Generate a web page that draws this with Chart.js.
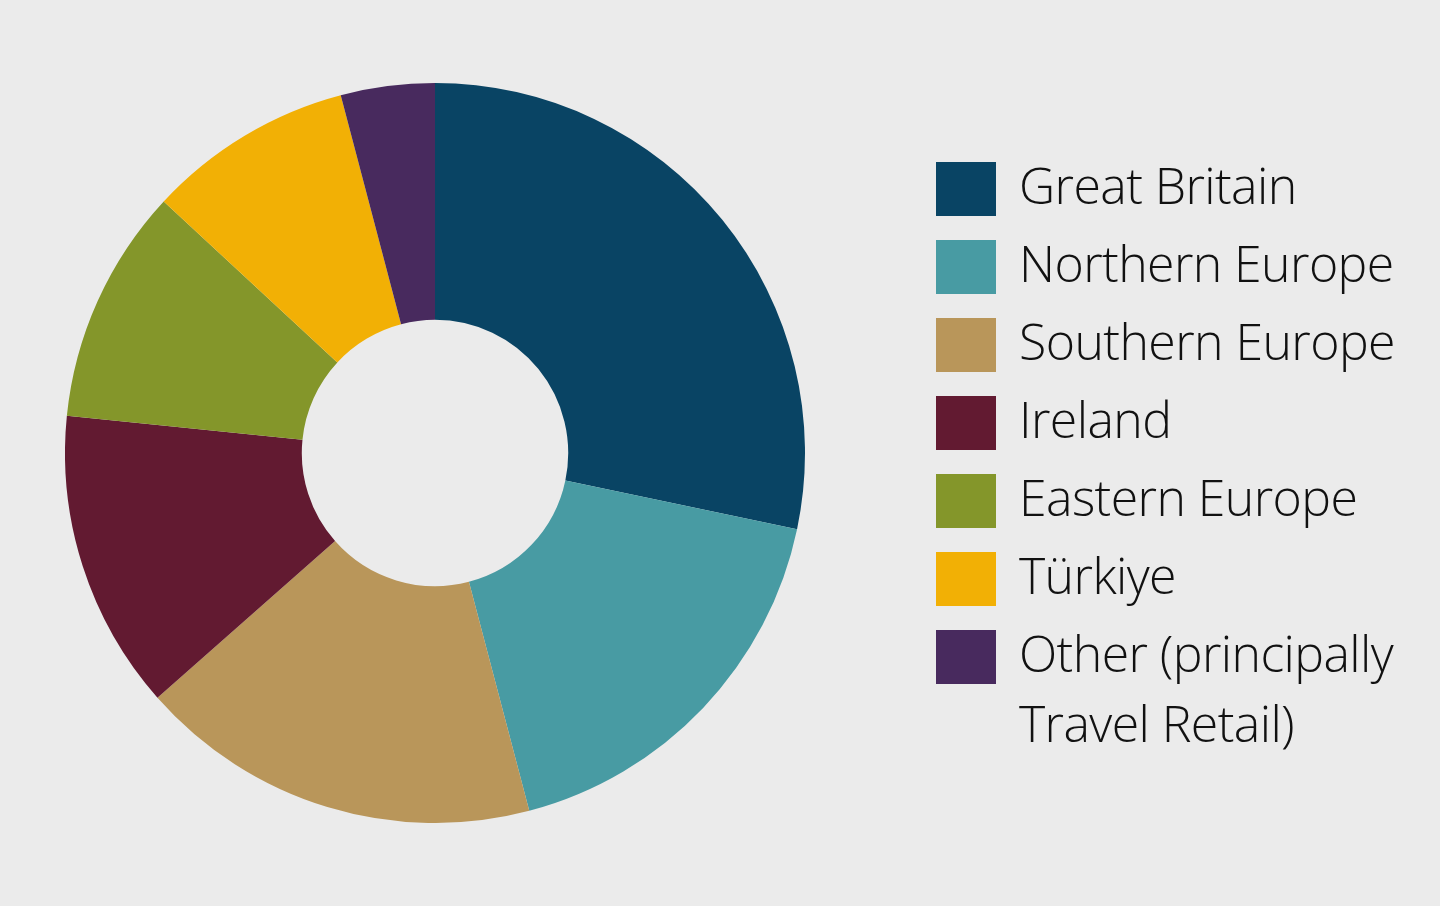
<!DOCTYPE html>
<html>
<head>
<meta charset="utf-8">
<script src="https://cdn.jsdelivr.net/npm/chart.js@4"></script>
<style>
  html, body { margin: 0; padding: 0; background: #ebebeb; }
  body { width: 1440px; height: 906px; position: relative; overflow: hidden; font-family: 'Open Sans', sans-serif; }
  #chartBox { position: absolute; left: 65px; top: 83px; width: 740px; height: 740px; }
  #legend { position: absolute; left: 936px; top: 150px; }
  .item { position: relative; height: 78px; }
  .swatch { position: absolute; left: 0; top: 12px; width: 60px; height: 54px; }
  .label { position: absolute; left: 83px; top: 0; font-size: 50px; font-weight: 300; color: #111; line-height: 70px; white-space: nowrap; letter-spacing: -0.6px; }
</style>
</head>
<body>
<div id="chartBox"><canvas id="donut"></canvas></div>
<div id="legend"></div>
<script>
// القيم المقروءة من الصورة (نسب مئوية تقريبية)
const regions = ['Great Britain', 'Northern Europe', 'Southern Europe', 'Ireland', 'Eastern Europe', 'Türkiye', 'Other (principally Travel Retail)'];
const legendLines = [['Great Britain'], ['Northern Europe'], ['Southern Europe'], ['Ireland'], ['Eastern Europe'], ['Türkiye'], ['Other (principally', 'Travel Retail)']];
const shares = [28.3, 17.6, 17.6, 13.1, 10.3, 9.0, 4.1];
const colours = ['#094464', '#489ba3', '#b9965a', '#621a31', '#84962a', '#f2b005', '#482a5e'];

// رسم المخطط الدائري
new Chart(document.getElementById('donut'), {
    type: 'doughnut',
    data: {
        labels: regions,
        datasets: [{
            data: shares,
            backgroundColor: colours,
            borderWidth: 0,
            hoverOffset: 0
        }]
    },
    options: {
        responsive: true,
        maintainAspectRatio: false,
        animation: false,
        cutout: '36%',
        layout: { padding: 0 },
        plugins: {
            legend: { display: false },
            tooltip: { enabled: false }
        }
    }
});

// وسيلة الإيضاح
const legend = document.getElementById('legend');
legendLines.forEach(function(lines, i) {
    const item = document.createElement('div');
    item.className = 'item';
    const sw = document.createElement('div');
    sw.className = 'swatch';
    sw.style.background = colours[i];
    const lab = document.createElement('div');
    lab.className = 'label';
    lab.innerHTML = lines.join('<br>');
    item.appendChild(sw);
    item.appendChild(lab);
    legend.appendChild(item);
});
</script>
</body>
</html>
